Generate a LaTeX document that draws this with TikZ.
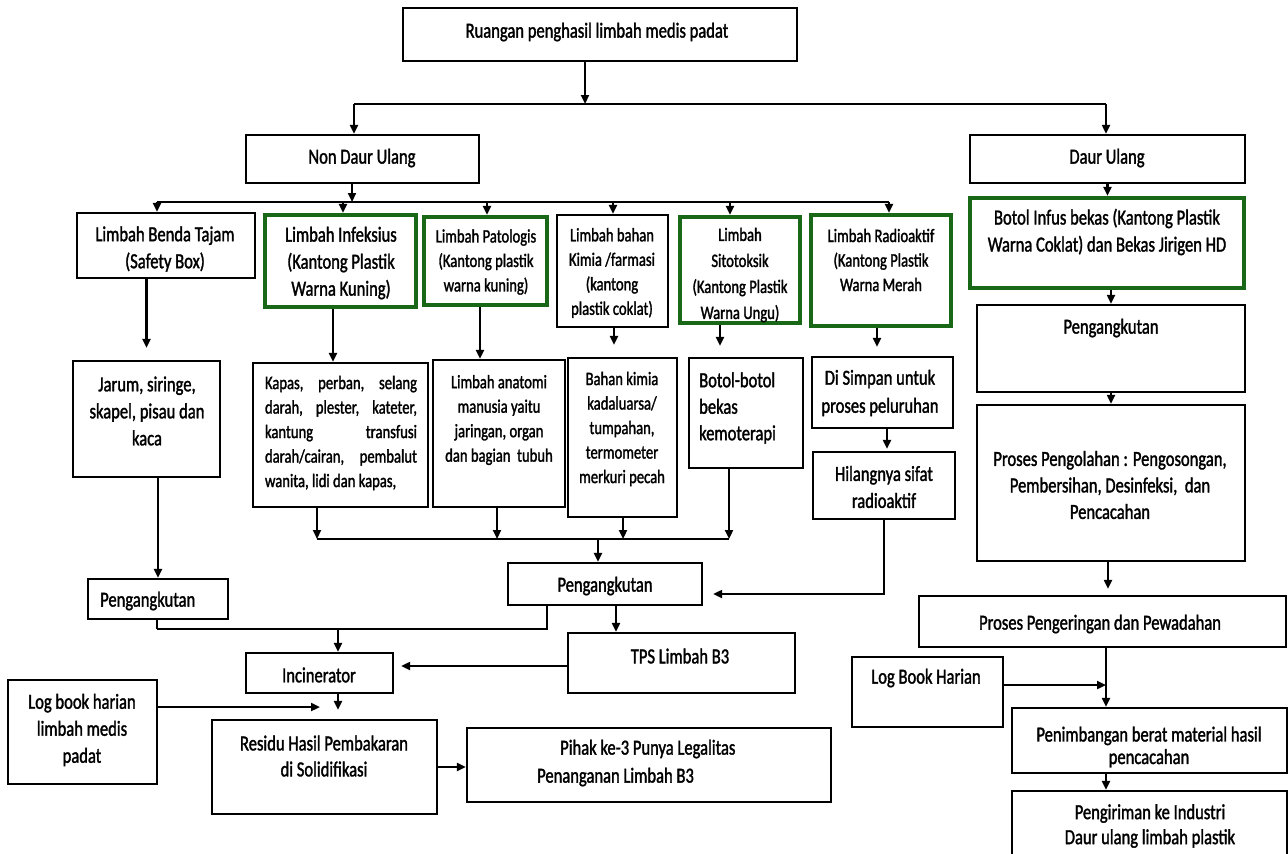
\documentclass[tikz,border=0pt]{standalone}
\usepackage{fontspec}
\setmainfont{Carlito}[FakeStretch=0.77, FakeBold=1.5]
\usetikzlibrary{arrows.meta}
\definecolor{dkgreen}{RGB}{24,104,24}
\tikzset{
  box/.style={draw=black, line width=2.4pt, inner sep=0pt, rectangle, fill=white},
  gbox/.style={draw=dkgreen, line width=4.2pt, inner sep=0pt, rectangle, fill=white},
  fa/.style={font=\fontsize{21.5}{#1}\selectfont, align=center, inner sep=0pt},
  fa/.default=27,
  fb/.style={font=\fontsize{19}{#1}\selectfont, align=center, inner sep=0pt},
  fb/.default=24.5,
  ln/.style={line width=2.2pt},
  arr/.style={line width=2.2pt, -{Triangle[length=9pt,width=8pt]}},
}
\newcommand\mybox[6][box]{\node[#1, minimum width={#5-#3}, minimum height={#6-#4}] (#2) at ({(#3+#5)/2},{(#4+#6)/2}) {};}
\begin{document}
\begin{tikzpicture}[x=1pt,y=-1pt]
\useasboundingbox (0,0) rectangle (1288,854);
\clip (0,0) rectangle (1288,854);
\fill[white] (0,0) rectangle (1288,854);

% ---- boxes ----
\mybox{ruangan}{403}{8}{797}{61}
\mybox{ndu}{246}{135}{479}{183}
\mybox{du}{970}{135}{1245}{183}
\mybox{tajam}{77}{213}{255}{278}
\mybox[gbox]{infeksius}{265}{215}{416}{307}
\mybox[gbox]{patologis}{424}{217}{547}{305}
\mybox{kimia}{557}{215}{668}{327}
\mybox[gbox]{sito}{680}{217}{800}{323}
\mybox[gbox]{radio}{811}{215}{951}{326}
\mybox[gbox]{infus}{970}{198}{1244}{288}
\mybox{jarum}{73}{361}{220}{477}
\mybox{kapas}{253}{363}{428}{507}
\mybox{anatomi}{433}{360}{565}{507}
\mybox{bahankimia}{568}{358}{677}{517}
\mybox{botolbotol}{689}{358}{803}{468}
\mybox{simpan}{812}{357}{953}{428}
\mybox{hilang}{813}{452}{955}{519}
\mybox{pengR}{977}{305}{1245}{392}
\mybox{olah}{977}{405}{1245}{561}
\mybox{kering}{919}{596}{1286}{647}
\mybox{logR}{852}{657}{1003}{727}
\mybox{timbang}{1012}{708}{1287}{773}
\mybox{kirim}{1012}{791}{1287}{880}
\mybox{pengL}{88}{579}{228}{619}
\mybox{pengM}{508}{563}{702}{605}
\mybox{tps}{568}{633}{795}{693}
\mybox{incin}{246}{653}{393}{693}
\mybox{logL}{8}{680}{157}{784}
\mybox{residu}{212}{720}{437}{814}
\mybox{pihak}{467}{728}{831}{802}

% ---- texts ----
\node[fa] (t-ruangan) at (597,32) {Ruangan penghasil limbah medis padat};
\node[fa] (t-ndu) at (362,158) {Non Daur Ulang};
\node[fa] (t-du) at (1107,158) {Daur Ulang};
\node[fa] (t-tajam) at (165,249) {Limbah Benda Tajam\\(Safety Box)};
\node[fa] (t-infeksius) at (341,263) {Limbah Infeksius\\(Kantong Plastik\\Warna Kuning)};
\node[fb] (t-patologis) at (486,262) {Limbah Patologis\\(Kantong plastik\\warna kuning)};
\node[fb] (t-kimia) at (612,273) {Limbah bahan\\Kimia /farmasi\\(kantong\\plastik coklat)};
\node[fb=26] (t-sito) at (740,275) {Limbah\\Sitotoksik\\(Kantong Plastik\\Warna Ungu)};
\node[fb] (t-radio) at (881,260) {Limbah Radioaktif\\(Kantong Plastik\\Warna Merah};
\node[fa] (t-infus) at (1107,232) {Botol Infus bekas (Kantong Plastik\\Warna Coklat)\ dan Bekas Jirigen HD};
\node[fa] (t-jarum) at (147,411) {Jarum, siringe,\\skapel, pisau dan\\kaca};
\node[fb, align=left] (t-kapas) at (341,433) {\hbox to 152pt{Kapas,\hfill perban,\hfill selang}\\\hbox to 152pt{darah,\hfill plester,\hfill kateter,}\\\hbox to 152pt{kantung\hfill transfusi}\\\hbox to 152pt{darah/cairan,\hfill pembalut}\\wanita, lidi dan kapas,};
\node[fb] (t-anatomi) at (499,420) {Limbah anatomi\\manusia yaitu\\jaringan, organ\\dan bagian\ \ tubuh};
\node[fb] (t-bahankimia) at (622,429) {Bahan kimia\\kadaluarsa/\\tumpahan,\\termometer\\merkuri pecah};
\node[fa=26.5, align=left, anchor=west] (t-botolbotol) at (699,408) {Botol-botol\\bekas\\kemoterapi};
\node[fa=28] (t-simpan) at (880,393) {Di Simpan untuk\\proses peluruhan};
\node[fa] (t-hilang) at (884,487) {Hilangnya sifat\\radioaktif};
\node[fa] (t-pengR) at (1111,328) {Pengangkutan};
\node[fa=26.5] (t-olah) at (1110,485) {Proses Pengolahan : Pengosongan,\\Pembersihan, Desinfeksi,\ \ dan\\Pencacahan};
\node[fa] (t-kering) at (1100,624) {Proses Pengeringan dan Pewadahan};
\node[fa] (t-logR) at (926,678) {Log Book Harian};
\node[fa=22.5] (t-timbang) at (1149,747) {Penimbangan berat material hasil\\pencacahan};
\node[fa=25] (t-kirim) at (1150,826) {Pengiriman ke Industri\\Daur ulang limbah plastik};
\node[fa, anchor=west] (t-pengL) at (100,601) {Pengangkutan};
\node[fa] (t-pengM) at (605,586) {Pengangkutan};
\node[fa] (t-tps) at (680,656) {TPS Limbah B3};
\node[fa] (t-incin) at (319,675) {Incinerator};
\node[fa] (t-logL) at (82,730) {Log book harian\\limbah medis\\padat};
\node[fa=26] (t-residu) at (324,756) {Residu Hasil Pembakaran\\di Solidifikasi};
\node[fa, anchor=west] (t-pihak1) at (560,749) {Pihak ke-3 Punya Legalitas};
\node[fa, anchor=west] (t-pihak2) at (537,777) {Penanganan Limbah B3};

% ---- connectors ----
\coordinate (b1) at (585,104);
\coordinate (b1L) at (354,104);
\coordinate (b1R) at (1106,104);
\draw[arr] (ruangan.south -| b1) -- (b1);
\draw[ln] (b1L) -- (b1R);
\draw[arr] (b1L) -- (b1L |- ndu.north);
\draw[arr] (b1R) -- (b1R |- du.north);

\coordinate (b2) at (352,202);
\coordinate (b2L) at (157,202);
\coordinate (b2a) at (343,202);
\coordinate (b2b) at (487,202);
\coordinate (b2c) at (613,202);
\coordinate (b2d) at (730,202);
\coordinate (b2R) at (889,202);
\draw[arr] (ndu.south -| b2) -- (b2);
\draw[ln] (b2L) -- (b2R);
\draw[arr] (b2L) -- (b2L |- tajam.north);
\draw[arr] (b2a) -- (b2a |- infeksius.north);
\draw[arr] (b2b) -- (b2b |- patologis.north);
\draw[arr] (b2c) -- (b2c |- kimia.north);
\draw[arr] (b2d) -- (b2d |- sito.north);
\draw[arr] (b2R) -- (b2R |- radio.north);

\draw[arr, shorten >=12pt] (tajam.south -| jarum.north) -- (jarum.north);
\draw[arr] ([xshift=-7.5pt]infeksius.south) -- ([xshift=-7.5pt]kapas.north);
\draw[arr] ([xshift=-5.5pt]patologis.south) -- ([xshift=-5.5pt]patologis.south |- anatomi.north);
\draw[arr, shorten >=12pt] ([xshift=1.5pt]kimia.south) -- ([xshift=1.5pt]kimia.south |- bahankimia.north);
\draw[arr, shorten >=11pt] ([xshift=-20pt]sito.south) -- ([xshift=-20pt]sito.south |- botolbotol.north);
\draw[arr, shorten >=9pt] ([xshift=-4pt]radio.south) -- ([xshift=-4pt]radio.south |- simpan.north);
\draw[arr, shorten >=2pt] ([xshift=3pt]hilang.north |- simpan.south) -- ([xshift=3pt]hilang.north);
\draw[arr] (jarum.south -| pengL.north) -- (pengL.north);

\coordinate (b3L) at (317,539);
\coordinate (b3b) at (497,539);
\coordinate (b3c) at (623,539);
\coordinate (b3R) at (729,539);
\coordinate (b3m) at (598,539);
\draw[ln] (b3L) -- (b3R);
\draw[arr] (b3L |- kapas.south) -- (b3L);
\draw[arr] (b3b |- anatomi.south) -- (b3b);
\draw[arr] (b3c |- bahankimia.south) -- (b3c);
\draw[arr] (b3R |- botolbotol.south) -- (b3R);
\draw[arr] (b3m) -- (b3m |- pengM.north);

\draw[arr, shorten >=10pt] (hilang.south) |- ([yshift=-10pt]pengM.east);
\draw[arr] ([xshift=11pt]pengM.south) -- ([xshift=11pt]pengM.south |- tps.north);

\coordinate (b4) at (157,629);
\coordinate (b4m) at (338,629);
\draw[ln] ([xshift=-58pt]pengM.south) |- (b4);
\draw[ln] (pengL.south -| b4) -- (b4);
\draw[arr] (b4m) -- (b4m |- incin.north);
\draw[arr, shorten >=7pt] ([yshift=-3pt]tps.west) -- ([yshift=-3pt]tps.west -| incin.east);
\draw[arr, shorten >=9pt] ([xshift=18.5pt]incin.south) -- ([xshift=18.5pt]incin.south |- residu.north);

\coordinate (logLend) at (320,707);
\draw[arr] (logL.east |- logLend) -- (logLend);
\draw[arr] (residu.east) -- (residu.east -| pihak.west);

\draw[arr] (du.south) -- (du.south |- infus.north);
\draw[arr] (pengR.north |- infus.south) -- (pengR.north);
\draw[arr] (pengR.south) -- (olah.north);
\draw[arr, shorten >=6pt] ([xshift=-3pt]olah.south) -- ([xshift=-3pt]olah.south |- kering.north);
\coordinate (kx) at (1106,685);
\draw[arr] (kering.south -| kx) -- (timbang.north -| kx);
\draw[arr] (logR.east |- kx) -- (kx);
\draw[arr] (kx |- timbang.south) -- (kx |- kirim.north);
\end{tikzpicture}
\end{document}
